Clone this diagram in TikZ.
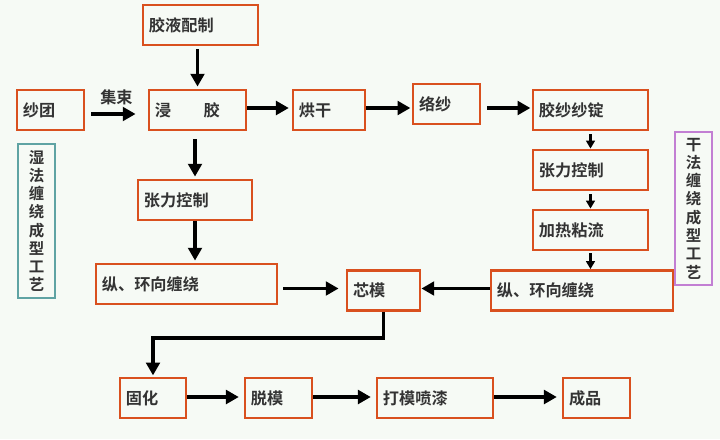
\documentclass[tikz,border=0pt]{standalone}
\usepackage{fontspec}
\usepackage{tikz}
\usetikzlibrary{arrows.meta, positioning, calc}
\newfontfamily\cjk[BoldFont={* Bold}]{Noto Sans CJK SC}
\definecolor{boxred}{HTML}{D9501E}
\definecolor{bgpale}{HTML}{F6FAF5}
\definecolor{wetline}{HTML}{5FA3A3}
\definecolor{dryline}{HTML}{C27FD3}
\tikzset{
  stepbox/.style={rectangle, draw=boxred, line width=2pt, fill=bgpale,
                  minimum height=1cm, inner xsep=0.15cm, text width=#1,
                  align=left, font=\cjk\bfseries\fontsize{11.5}{13}\selectfont, text=black!80},
  sidebox/.style={rectangle, draw=#1, line width=1pt, fill=bgpale,
                  minimum width=0.925cm, inner sep=0pt, align=center,
                  font=\cjk\bfseries\fontsize{11}{13}\selectfont, text=black!80},
  arc/.style={-{Triangle[length=3.2mm, width=3.4mm]}, line width=2.8pt},
  thinarc/.style={-{Triangle[length=2mm, width=2.2mm]}, line width=1.5pt}
}
\begin{document}
\begin{tikzpicture}[x=0.025cm, y=-0.025cm]
  \fill[bgpale] (0,0) rectangle (720,439);
  \useasboundingbox (0,0) rectangle (720,439);
  % wet process
  \node[stepbox=2.575cm] (glue) at (200.5,25) {胶液配制};
  \node[stepbox=1.375cm] (yarn) at (50.5,110) {纱团};
  \node[stepbox=2.125cm] (dip) at (197.5,110) {浸\hspace{2em}胶};
  \node[stepbox=1.5cm] (dry) at (329,110) {烘干};
  \node[stepbox=1.375cm] (wind) at (446.5,104) {络纱};
  \node[stepbox=2.55cm] (tensL) at (195,200) {张力控制};
  \node[stepbox=4.225cm] (windL) at (186.5,284) {纵、环向缠绕};
  % dry process
  \node[stepbox=2.575cm] (spool) at (590.5,110) {胶纱纱锭};
  \node[stepbox=2.575cm] (tensR) at (590.5,170) {张力控制};
  \node[stepbox=2.575cm] (heat) at (590.5,230) {加热粘流};
  \node[stepbox=4.25cm] (windR) at (582,290.5) {纵、环向缠绕};
  \node[stepbox=1.525cm] (mandrel) at (383.5,290.5) {芯模};
  % final steps
  \node[stepbox=1.35cm] (cure) at (153,398) {固化};
  \node[stepbox=1.375cm] (demold) at (278.5,398) {脱模};
  \node[stepbox=2.6cm] (paint) at (435,398) {打模喷漆};
  \node[stepbox=1.375cm] (product) at (596.5,398) {成品};
  % side labels
  \node[sidebox=wetline, minimum height=3.85cm] (wetlab) at (36.5,221)
    {湿\\法\\缠\\绕\\成\\型\\工\\艺};
  \node[sidebox=dryline, minimum height=3.825cm] (drylab) at (693.5,208.5)
    {干\\法\\缠\\绕\\成\\型\\工\\艺};

  \draw[arc, shorten <=0.15cm, shorten >=0.3cm] ($(yarn.east)+(0,4)$) -- ($(dip.west)+(0,4)$)
    node[midway, above=2pt, font=\cjk\bfseries\fontsize{11.5}{13}\selectfont, text=black!80] (bundle) {集束};
  \draw[arc, shorten <=0.07cm, shorten >=0.05cm] (dip.north |- glue.south) -- (dip.north);
  \draw[arc, shorten >=0.07cm] ($(dip.east)+(0,-2)$) -- ($(dry.west)+(0,-2)$);
  \draw[arc, shorten >=0.03cm] ($(dry.east)+(0,-2)$) -- ($(dry.east -| wind.west)+(0,-2)$);
  \draw[arc, shorten <=0.15cm, shorten >=0.03cm] ($(wind.east |- spool)+(0,-2)$) -- ($(spool.west)+(0,-2)$);
  \draw[arc, shorten <=0.2cm, shorten >=0.05cm] (tensL.north |- dip.south) -- (tensL.north);
  \draw[arc, shorten >=0.05cm] (tensL.south) -- (tensL.south |- windL.north);
  \draw[thinarc, shorten <=0.07cm] (spool) -- (tensR);
  \draw[thinarc, shorten <=0.07cm] (tensR) -- (heat);
  \draw[thinarc, shorten <=0.05cm] (heat.south) -- (heat.south |- windR.north);
  \draw[arc] ($(windR.west)+(0,-2)$) -- ($(mandrel.east)+(0,-2)$);
  \draw[arc, shorten <=0.125cm, shorten >=0.175cm] ($(windL.east |- mandrel)+(0,-2)$) -- ($(mandrel.west)+(0,-2)$);
  \draw[arc, shorten >=0.03cm] (mandrel.south) -- ++(0,26) -| (cure.north);
  \foreach \a/\b in {cure/demold, demold/paint, paint/product}
    \draw[arc, shorten >=0.12cm] ($(\a.east)+(0,-1)$) -- ($(\b.west)+(0,-1)$);
\end{tikzpicture}
\end{document}
